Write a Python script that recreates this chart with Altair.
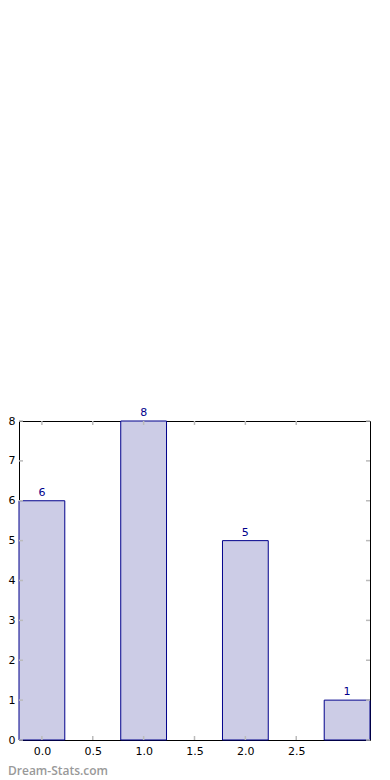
import altair as alt
import pandas as pd

categories = [0, 1, 2, 3]
counts = [6, 8, 5, 1]
x_ticks = [0.0, 0.5, 1.0, 1.5, 2.0, 2.5]
y_ticks = [0, 1, 2, 3, 4, 5, 6, 7, 8]
bar_width = 0.45

df = pd.DataFrame({"cat": categories, "count": counts})
xt = pd.DataFrame({"v": x_ticks})
yt = pd.DataFrame({"v": y_ticks})

W, H = 351, 319
FONT = "DejaVu Sans"
xscale = alt.Scale(domain=[-0.225, 3.225], nice=False, zero=False)
yscale = alt.Scale(domain=[0, 8], nice=False)

xaxis = alt.Axis(values=x_ticks, format=".1f", tickSize=0, domain=False, grid=False,
                 labelOverlap=False, labelFlush=False, title=None,
                 labelFont=FONT, labelFontSize=11, labelColor="#000000", labelPadding=5)
yaxis = alt.Axis(values=y_ticks, format="d", tickSize=0, domain=False, grid=False,
                 labelOverlap=False, labelFlush=False, title=None,
                 labelFont=FONT, labelFontSize=11, labelColor="#000000", labelPadding=4)

base = alt.Chart(df)

bars = base.transform_calculate(
    x0=f"datum.cat - {bar_width/2}", x1=f"datum.cat + {bar_width/2}"
).mark_bar(fill="#ccccE6", stroke="#00008B", strokeWidth=1).encode(
    x=alt.X("x0:Q", scale=xscale, axis=xaxis),
    x2="x1:Q",
    y=alt.Y("count:Q", scale=yscale, axis=yaxis),
    y2=alt.datum(0),
)

labels = base.mark_text(baseline="bottom", dy=-3, font=FONT, fontSize=11, color="#00008B").encode(
    x=alt.X("cat:Q", scale=xscale, axis=xaxis),
    y=alt.Y("count:Q", scale=yscale, axis=yaxis),
    text="count:Q",
)

tick_style = dict(color="#bbbbbb", strokeWidth=1.5)
xb = alt.Chart(xt).mark_rule(**tick_style).encode(
    x=alt.X("v:Q", scale=xscale, axis=xaxis), y=alt.value(H), y2=alt.value(H - 4))
xtop = alt.Chart(xt).mark_rule(**tick_style).encode(
    x=alt.X("v:Q", scale=xscale, axis=xaxis), y=alt.value(0), y2=alt.value(4))
yl = alt.Chart(yt).mark_rule(**tick_style).encode(
    y=alt.Y("v:Q", scale=yscale, axis=yaxis), x=alt.value(0), x2=alt.value(4))
yr = alt.Chart(yt).mark_rule(**tick_style).encode(
    y=alt.Y("v:Q", scale=yscale, axis=yaxis), x=alt.value(W), x2=alt.value(W - 4))

wm = alt.Chart(pd.DataFrame({"t": ["Dream-Stats.com"]})).mark_text(
    align="left", baseline="alphabetic", font="Open Sans", fontSize=12, fontWeight=600, color="#999999"
).encode(x=alt.value(-11), y=alt.value(354), text="t:N")

chart = alt.layer(bars, xb, xtop, yl, yr, labels, wm).properties(
    width=W, height=H,
    autosize=alt.AutoSizeParams(type="none"),
    padding={"left": 11, "top": 413, "right": 10, "bottom": 40},
).configure_view(stroke="#000000", strokeWidth=1)

chart.save("out.html", embed_options={"renderer": "svg", "actions": False})
